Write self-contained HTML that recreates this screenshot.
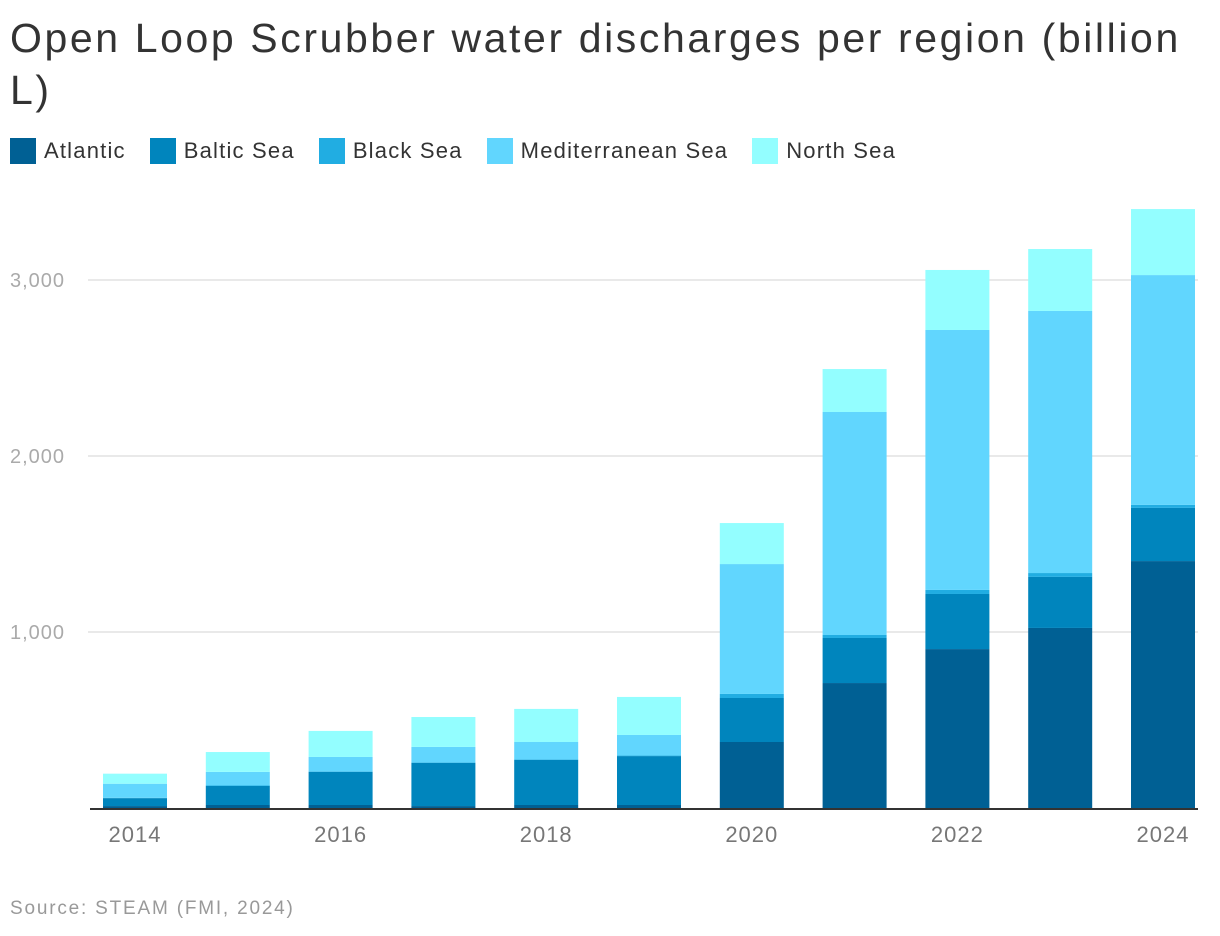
<!DOCTYPE html>
<html><head><meta charset="utf-8"><style>
body{margin:0;background:#fff;font-family:"Liberation Sans",sans-serif;}
#wrap{position:relative;width:1220px;height:936px;overflow:hidden}
h1{position:absolute;left:10px;top:12px;margin:0;font-weight:normal;font-size:41px;letter-spacing:2.6px;line-height:52px;color:#333;width:1205px}
.legend{position:absolute;top:138px;left:10px;display:flex;font-size:22px;letter-spacing:1.2px;color:#333}
.li{display:flex;align-items:center;margin-right:24px}
.sw{width:26px;height:26px;margin-right:8px}
.src{position:absolute;left:10px;top:898px;font-size:19px;letter-spacing:1.8px;color:#999}
</style></head><body><div id="wrap">
<h1>Open Loop Scrubber water discharges per region (billion L)</h1>
<div class="legend">
<div class="li"><div class="sw" style="background:#006094"></div>Atlantic</div>
<div class="li"><div class="sw" style="background:#0085bd"></div>Baltic Sea</div>
<div class="li"><div class="sw" style="background:#21ade2"></div>Black Sea</div>
<div class="li"><div class="sw" style="background:#61d6fe"></div>Mediterranean Sea</div>
<div class="li"><div class="sw" style="background:#93feff"></div>North Sea</div>
</div>
<svg id="svg" width="1220" height="936" style="position:absolute;left:0;top:0"></svg>
<div class="src">Source: STEAM (FMI, 2024)</div>
</div>
<script>
const years=[2014,2015,2016,2017,2018,2019,2020,2021,2022,2023,2024];
const atlantic=[11,17,17,11,17,17,375,710,903,1023,1403];
const baltic=[45,108,188,245,256,278,250,256,313,290,302];
const black=[2,3,3,3,3,3,23,17,23,22,17];
const mediterranean=[80,77,82,88,99,117,738,1267,1477,1489,1306];
const north=[57,113,148,170,188,216,233,244,341,352,375];
const yTicks=[1000,2000,3000];
const xTickYears=[2014,2016,2018,2020,2022,2024];
const series=[atlantic,baltic,black,mediterranean,north];
const names=['atlantic','baltic','black','mediterranean','north'];
const colors=['#006094','#0085bd','#21ade2','#61d6fe','#93feff'];
const svg=document.getElementById('svg');const NS='http://www.w3.org/2000/svg';
const y0=808,pxPer=0.176;
const ys=v=>y0-v*pxPer;
const xs=yr=>135+(yr-2014)*102.8;
const bw=64;
function mk(t,a){const e=document.createElementNS(NS,t);for(const k in a)e.setAttribute(k,a[k]);svg.appendChild(e);return e;}
yTicks.forEach(t=>{
const l=mk('line',{x1:88,x2:1198,y1:ys(t),y2:ys(t),stroke:'#e2e2e2','stroke-width':1.5});


const tx=mk('text',{x:10,y:ys(t)+7,fill:'#aaa','font-size':20,'letter-spacing':1,'font-family':'Liberation Sans, sans-serif'});
tx.textContent=t.toLocaleString('en-US');


});
years.forEach((yr,i)=>{let acc=0;
series.forEach((s,j)=>{const v=s[i];
const r=mk('rect',{x:xs(yr)-bw/2,y:ys(acc+v),width:bw,height:v*pxPer,fill:colors[j]});


acc+=v;});
});
const ax=mk('line',{x1:90,x2:1198,y1:y0+1,y2:y0+1,stroke:'#333','stroke-width':2});


xTickYears.forEach(yr=>{
const t=mk('text',{x:xs(yr),y:842,fill:'#777','font-size':22,'letter-spacing':1,'text-anchor':'middle','font-family':'Liberation Sans, sans-serif'});
t.textContent=yr;


});
</script></body></html>
